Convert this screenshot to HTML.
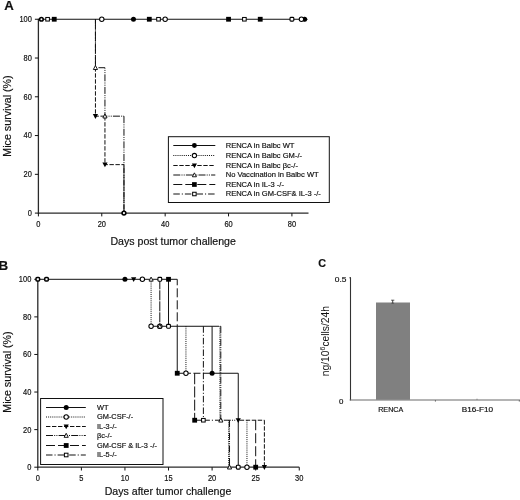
<!DOCTYPE html>
<html><head><meta charset="utf-8"><style>
html,body{margin:0;padding:0;background:#fff;}
svg{display:block;filter:grayscale(1);font-family:"Liberation Sans",sans-serif;}
</style></head><body>
<svg width="520" height="500" viewBox="0 0 520 500">
<rect width="520" height="500" fill="#fff"/>
<line x1="38.40" y1="18.75" x2="38.40" y2="213.70" stroke="#2a2a2a" stroke-width="1.3"/>
<line x1="38.40" y1="213.10" x2="308.50" y2="213.10" stroke="#2a2a2a" stroke-width="1.3"/>
<line x1="34.90" y1="213.10" x2="38.40" y2="213.10" stroke="#111" stroke-width="1"/>
<text x="27.75" y="216.00" font-size="8.3" text-anchor="start" font-weight="normal" fill="#111" textLength="4.15" lengthAdjust="spacingAndGlyphs" stroke="#111" stroke-width="0.18">0</text>
<line x1="34.90" y1="174.33" x2="38.40" y2="174.33" stroke="#111" stroke-width="1"/>
<text x="23.60" y="177.23" font-size="8.3" text-anchor="start" font-weight="normal" fill="#111" textLength="8.30" lengthAdjust="spacingAndGlyphs" stroke="#111" stroke-width="0.18">20</text>
<line x1="34.90" y1="135.56" x2="38.40" y2="135.56" stroke="#111" stroke-width="1"/>
<text x="23.60" y="138.46" font-size="8.3" text-anchor="start" font-weight="normal" fill="#111" textLength="8.30" lengthAdjust="spacingAndGlyphs" stroke="#111" stroke-width="0.18">40</text>
<line x1="34.90" y1="96.79" x2="38.40" y2="96.79" stroke="#111" stroke-width="1"/>
<text x="23.60" y="99.69" font-size="8.3" text-anchor="start" font-weight="normal" fill="#111" textLength="8.30" lengthAdjust="spacingAndGlyphs" stroke="#111" stroke-width="0.18">60</text>
<line x1="34.90" y1="58.02" x2="38.40" y2="58.02" stroke="#111" stroke-width="1"/>
<text x="23.60" y="60.92" font-size="8.3" text-anchor="start" font-weight="normal" fill="#111" textLength="8.30" lengthAdjust="spacingAndGlyphs" stroke="#111" stroke-width="0.18">80</text>
<line x1="34.90" y1="19.25" x2="38.40" y2="19.25" stroke="#111" stroke-width="1"/>
<text x="19.45" y="22.15" font-size="8.3" text-anchor="start" font-weight="normal" fill="#111" textLength="12.45" lengthAdjust="spacingAndGlyphs" stroke="#111" stroke-width="0.18">100</text>
<line x1="38.40" y1="213.10" x2="38.40" y2="216.40" stroke="#111" stroke-width="1"/>
<text x="36.32" y="226.70" font-size="8.3" text-anchor="start" font-weight="normal" fill="#111" textLength="4.15" lengthAdjust="spacingAndGlyphs" stroke="#111" stroke-width="0.18">0</text>
<line x1="101.78" y1="213.10" x2="101.78" y2="216.40" stroke="#111" stroke-width="1"/>
<text x="97.63" y="226.70" font-size="8.3" text-anchor="start" font-weight="normal" fill="#111" textLength="8.30" lengthAdjust="spacingAndGlyphs" stroke="#111" stroke-width="0.18">20</text>
<line x1="165.16" y1="213.10" x2="165.16" y2="216.40" stroke="#111" stroke-width="1"/>
<text x="161.01" y="226.70" font-size="8.3" text-anchor="start" font-weight="normal" fill="#111" textLength="8.30" lengthAdjust="spacingAndGlyphs" stroke="#111" stroke-width="0.18">40</text>
<line x1="228.54" y1="213.10" x2="228.54" y2="216.40" stroke="#111" stroke-width="1"/>
<text x="224.39" y="226.70" font-size="8.3" text-anchor="start" font-weight="normal" fill="#111" textLength="8.30" lengthAdjust="spacingAndGlyphs" stroke="#111" stroke-width="0.18">60</text>
<line x1="291.92" y1="213.10" x2="291.92" y2="216.40" stroke="#111" stroke-width="1"/>
<text x="287.77" y="226.70" font-size="8.3" text-anchor="start" font-weight="normal" fill="#111" textLength="8.30" lengthAdjust="spacingAndGlyphs" stroke="#111" stroke-width="0.18">80</text>
<text x="11.00" y="116.00" font-size="10.7" text-anchor="middle" font-weight="normal" fill="#111" transform="rotate(-90 11.00 116.00)"  stroke="#111" stroke-width="0.18">Mice survival (%)</text>
<text x="173.20" y="244.60" font-size="10.6" text-anchor="middle" font-weight="normal" fill="#111"  stroke="#111" stroke-width="0.18">Days post tumor challenge</text>
<text x="4.20" y="9.60" font-size="13.2" text-anchor="start" font-weight="bold" fill="#111"  stroke="#111" stroke-width="0.18">A</text>
<line x1="38.40" y1="19.25" x2="306.50" y2="19.25" stroke="#111" stroke-width="1"/>
<line x1="95.44" y1="19.25" x2="95.44" y2="116.17" stroke="#111" stroke-width="1" stroke-dasharray="4.4 1.6"/>
<line x1="95.44" y1="116.17" x2="104.95" y2="116.17" stroke="#111" stroke-width="1" stroke-dasharray="4.4 1.6" stroke-dashoffset="1"/>
<line x1="104.95" y1="116.17" x2="104.95" y2="164.64" stroke="#111" stroke-width="1" stroke-dasharray="4.4 1.6"/>
<line x1="104.95" y1="164.64" x2="123.96" y2="164.64" stroke="#111" stroke-width="1" stroke-dasharray="4.4 1.6" stroke-dashoffset="1.5"/>
<line x1="123.96" y1="164.64" x2="123.96" y2="213.10" stroke="#111" stroke-width="1" stroke-dasharray="5.2 0.8" stroke-dashoffset="2.5"/>
<line x1="95.44" y1="19.25" x2="95.44" y2="67.71" stroke="#111" stroke-width="1" stroke-dasharray="7 1.2 1 1.2 1 1.2"/>
<line x1="98.44" y1="67.71" x2="104.95" y2="67.71" stroke="#111" stroke-width="1"/>
<line x1="104.95" y1="67.71" x2="104.95" y2="116.17" stroke="#111" stroke-width="1" stroke-dasharray="7 1.2 1 1.2 1 1.2" stroke-dashoffset="6"/>
<line x1="104.95" y1="116.17" x2="123.96" y2="116.17" stroke="#111" stroke-width="1" stroke-dasharray="7 1.2 1 1.2 1 1.2" stroke-dashoffset="4.6"/>
<line x1="123.96" y1="116.17" x2="123.96" y2="213.10" stroke="#111" stroke-width="1" stroke-dasharray="7 1.2 1 1.2 1 1.2"/>
<circle cx="133.47" cy="19.25" r="2.50" fill="#000"/>
<circle cx="304.60" cy="19.25" r="2.50" fill="#000"/>
<circle cx="41.41" cy="19.25" r="1.80" fill="#fff" stroke="#000" stroke-width="1.6"/>
<circle cx="101.78" cy="19.25" r="2.20" fill="#fff" stroke="#000" stroke-width="1.05"/>
<circle cx="165.16" cy="19.25" r="2.20" fill="#fff" stroke="#000" stroke-width="1.05"/>
<circle cx="301.43" cy="19.25" r="2.20" fill="#fff" stroke="#000" stroke-width="1.05"/>
<path d="M92.84,114.09 L98.04,114.09 L95.44,118.91 Z" fill="#000"/>
<path d="M102.35,162.56 L107.55,162.56 L104.95,167.37 Z" fill="#000"/>
<path d="M93.34,69.53 L97.54,69.53 L95.44,65.50 Z" fill="#fff" stroke="#000" stroke-width="0.9"/>
<path d="M102.85,117.99 L107.05,117.99 L104.95,113.97 Z" fill="#fff" stroke="#000" stroke-width="0.9"/>
<rect x="51.84" y="16.85" width="4.80" height="4.80" fill="#000"/>
<rect x="146.91" y="16.85" width="4.80" height="4.80" fill="#000"/>
<rect x="226.14" y="16.85" width="4.80" height="4.80" fill="#000"/>
<rect x="257.83" y="16.85" width="4.80" height="4.80" fill="#000"/>
<rect x="45.79" y="17.45" width="3.60" height="3.60" fill="#fff" stroke="#000" stroke-width="1"/>
<rect x="156.71" y="17.45" width="3.60" height="3.60" fill="#fff" stroke="#000" stroke-width="1"/>
<rect x="242.59" y="17.45" width="3.60" height="3.60" fill="#fff" stroke="#000" stroke-width="1"/>
<rect x="290.02" y="17.35" width="3.80" height="3.80" rx="0.9" fill="#fff" stroke="#000" stroke-width="1.1"/>
<path d="M304.60,16.85 L307.80,19.25 L304.60,21.65 Z" fill="#000"/>
<circle cx="123.96" cy="213.10" r="1.90" fill="#fff" stroke="#000" stroke-width="1.6"/>
<rect x="168.4" y="136.7" width="160.9" height="65.8" fill="#fff" stroke="#111" stroke-width="1"/>
<line x1="173.30" y1="145.50" x2="215.30" y2="145.50" stroke="#111" stroke-width="1"/>
<circle cx="194.40" cy="145.50" r="2.45" fill="#000"/>
<text x="225.70" y="147.60" font-size="7.55" text-anchor="start" font-weight="normal" fill="#111"  stroke="#111" stroke-width="0.18">RENCA in Balbc WT</text>
<line x1="173.30" y1="155.50" x2="215.30" y2="155.50" stroke="#111" stroke-width="1" stroke-dasharray="1 1.1"/>
<circle cx="194.40" cy="155.50" r="2.15" fill="#fff" stroke="#000" stroke-width="1.05"/>
<text x="225.70" y="157.60" font-size="7.55" text-anchor="start" font-weight="normal" fill="#111"  stroke="#111" stroke-width="0.18">RENCA in Balbc GM-/-</text>
<line x1="173.30" y1="165.50" x2="215.30" y2="165.50" stroke="#111" stroke-width="1" stroke-dasharray="4.4 1.6"/>
<path d="M191.85,163.46 L196.95,163.46 L194.40,168.18 Z" fill="#000"/>
<text x="225.70" y="167.60" font-size="7.55" text-anchor="start" font-weight="normal" fill="#111"  stroke="#111" stroke-width="0.18">RENCA in Balbc βc-/-</text>
<line x1="173.30" y1="175.00" x2="215.30" y2="175.00" stroke="#111" stroke-width="1" stroke-dasharray="7 1.2 1 1.2 1 1.2"/>
<path d="M192.35,176.78 L196.45,176.78 L194.40,172.83 Z" fill="#fff" stroke="#000" stroke-width="0.9"/>
<text x="225.70" y="177.10" font-size="7.55" text-anchor="start" font-weight="normal" fill="#111"  stroke="#111" stroke-width="0.18">No Vaccination in Balbc WT</text>
<line x1="173.30" y1="184.50" x2="215.30" y2="184.50" stroke="#111" stroke-width="1" stroke-dasharray="9 3"/>
<rect x="192.05" y="182.15" width="4.70" height="4.70" fill="#000"/>
<text x="225.70" y="186.60" font-size="7.55" text-anchor="start" font-weight="normal" fill="#111"  stroke="#111" stroke-width="0.18">RENCA in IL-3 -/-</text>
<line x1="173.30" y1="194.00" x2="215.30" y2="194.00" stroke="#111" stroke-width="1" stroke-dasharray="6.5 2 1.1 2"/>
<rect x="192.65" y="192.25" width="3.50" height="3.50" fill="#fff" stroke="#000" stroke-width="1"/>
<text x="225.70" y="196.10" font-size="7.55" text-anchor="start" font-weight="normal" fill="#111"  stroke="#111" stroke-width="0.18">RENCA in GM-CSF&amp; IL-3 -/-</text>
<line x1="37.80" y1="278.80" x2="37.80" y2="467.80" stroke="#2a2a2a" stroke-width="1.3"/>
<line x1="37.80" y1="467.20" x2="299.25" y2="467.20" stroke="#2a2a2a" stroke-width="1.3"/>
<line x1="34.30" y1="467.20" x2="37.80" y2="467.20" stroke="#111" stroke-width="1"/>
<text x="27.15" y="470.10" font-size="8.3" text-anchor="start" font-weight="normal" fill="#111" textLength="4.15" lengthAdjust="spacingAndGlyphs" stroke="#111" stroke-width="0.18">0</text>
<line x1="34.30" y1="429.62" x2="37.80" y2="429.62" stroke="#111" stroke-width="1"/>
<text x="23.00" y="432.52" font-size="8.3" text-anchor="start" font-weight="normal" fill="#111" textLength="8.30" lengthAdjust="spacingAndGlyphs" stroke="#111" stroke-width="0.18">20</text>
<line x1="34.30" y1="392.04" x2="37.80" y2="392.04" stroke="#111" stroke-width="1"/>
<text x="23.00" y="394.94" font-size="8.3" text-anchor="start" font-weight="normal" fill="#111" textLength="8.30" lengthAdjust="spacingAndGlyphs" stroke="#111" stroke-width="0.18">40</text>
<line x1="34.30" y1="354.46" x2="37.80" y2="354.46" stroke="#111" stroke-width="1"/>
<text x="23.00" y="357.36" font-size="8.3" text-anchor="start" font-weight="normal" fill="#111" textLength="8.30" lengthAdjust="spacingAndGlyphs" stroke="#111" stroke-width="0.18">60</text>
<line x1="34.30" y1="316.88" x2="37.80" y2="316.88" stroke="#111" stroke-width="1"/>
<text x="23.00" y="319.78" font-size="8.3" text-anchor="start" font-weight="normal" fill="#111" textLength="8.30" lengthAdjust="spacingAndGlyphs" stroke="#111" stroke-width="0.18">80</text>
<line x1="34.30" y1="279.30" x2="37.80" y2="279.30" stroke="#111" stroke-width="1"/>
<text x="18.85" y="282.20" font-size="8.3" text-anchor="start" font-weight="normal" fill="#111" textLength="12.45" lengthAdjust="spacingAndGlyphs" stroke="#111" stroke-width="0.18">100</text>
<line x1="37.80" y1="467.20" x2="37.80" y2="470.50" stroke="#111" stroke-width="1"/>
<text x="35.72" y="480.80" font-size="8.3" text-anchor="start" font-weight="normal" fill="#111" textLength="4.15" lengthAdjust="spacingAndGlyphs" stroke="#111" stroke-width="0.18">0</text>
<line x1="81.38" y1="467.20" x2="81.38" y2="470.50" stroke="#111" stroke-width="1"/>
<text x="79.30" y="480.80" font-size="8.3" text-anchor="start" font-weight="normal" fill="#111" textLength="4.15" lengthAdjust="spacingAndGlyphs" stroke="#111" stroke-width="0.18">5</text>
<line x1="124.95" y1="467.20" x2="124.95" y2="470.50" stroke="#111" stroke-width="1"/>
<text x="120.80" y="480.80" font-size="8.3" text-anchor="start" font-weight="normal" fill="#111" textLength="8.30" lengthAdjust="spacingAndGlyphs" stroke="#111" stroke-width="0.18">10</text>
<line x1="168.52" y1="467.20" x2="168.52" y2="470.50" stroke="#111" stroke-width="1"/>
<text x="164.37" y="480.80" font-size="8.3" text-anchor="start" font-weight="normal" fill="#111" textLength="8.30" lengthAdjust="spacingAndGlyphs" stroke="#111" stroke-width="0.18">15</text>
<line x1="212.10" y1="467.20" x2="212.10" y2="470.50" stroke="#111" stroke-width="1"/>
<text x="207.95" y="480.80" font-size="8.3" text-anchor="start" font-weight="normal" fill="#111" textLength="8.30" lengthAdjust="spacingAndGlyphs" stroke="#111" stroke-width="0.18">20</text>
<line x1="255.68" y1="467.20" x2="255.68" y2="470.50" stroke="#111" stroke-width="1"/>
<text x="251.53" y="480.80" font-size="8.3" text-anchor="start" font-weight="normal" fill="#111" textLength="8.30" lengthAdjust="spacingAndGlyphs" stroke="#111" stroke-width="0.18">25</text>
<line x1="299.25" y1="467.20" x2="299.25" y2="470.50" stroke="#111" stroke-width="1"/>
<text x="295.10" y="480.80" font-size="8.3" text-anchor="start" font-weight="normal" fill="#111" textLength="8.30" lengthAdjust="spacingAndGlyphs" stroke="#111" stroke-width="0.18">30</text>
<text x="11.00" y="372.00" font-size="10.7" text-anchor="middle" font-weight="normal" fill="#111" transform="rotate(-90 11.00 372.00)"  stroke="#111" stroke-width="0.18">Mice survival (%)</text>
<text x="168.00" y="494.50" font-size="10.6" text-anchor="middle" font-weight="normal" fill="#111"  stroke="#111" stroke-width="0.18">Days after tumor challenge</text>
<text x="-1.60" y="269.50" font-size="13.4" text-anchor="start" font-weight="bold" fill="#111"  stroke="#111" stroke-width="0.18">B</text>
<line x1="37.80" y1="279.30" x2="177.24" y2="279.30" stroke="#111" stroke-width="1"/>
<line x1="151.09" y1="326.27" x2="212.10" y2="326.27" stroke="#111" stroke-width="1"/>
<line x1="212.10" y1="326.27" x2="220.81" y2="326.27" stroke="#111" stroke-width="1" stroke-dasharray="7 1.2 1 1.2 1 1.2"/>
<line x1="177.24" y1="373.25" x2="185.95" y2="373.25" stroke="#111" stroke-width="1"/>
<line x1="185.95" y1="373.25" x2="212.10" y2="373.25" stroke="#111" stroke-width="1" stroke-dasharray="7 2.5" stroke-dashoffset="2"/>
<line x1="212.10" y1="373.25" x2="238.25" y2="373.25" stroke="#111" stroke-width="1"/>
<line x1="194.67" y1="420.23" x2="203.38" y2="420.23" stroke="#111" stroke-width="1" stroke-dasharray="9 3"/>
<line x1="203.38" y1="420.23" x2="220.81" y2="420.23" stroke="#111" stroke-width="1" stroke-dasharray="6.5 2 1.1 2"/>
<line x1="220.81" y1="420.23" x2="235.63" y2="420.23" stroke="#111" stroke-width="1" stroke-dasharray="7 1.2 1 1.2 1 1.2" stroke-dashoffset="-3"/>
<line x1="238.25" y1="420.23" x2="264.39" y2="420.23" stroke="#111" stroke-width="1" stroke-dasharray="4.4 1.6" stroke-dashoffset="-1.5"/>
<line x1="151.09" y1="279.30" x2="151.09" y2="326.27" stroke="#111" stroke-width="1" stroke-dasharray="1 1.1"/>
<line x1="159.81" y1="279.30" x2="159.81" y2="326.27" stroke="#111" stroke-width="1" stroke-dasharray="10 1"/>
<line x1="168.52" y1="279.30" x2="168.52" y2="326.27" stroke="#111" stroke-width="1"/>
<line x1="177.24" y1="279.30" x2="177.24" y2="326.27" stroke="#111" stroke-width="1" stroke-dasharray="9 3" stroke-dashoffset="3"/>
<line x1="177.24" y1="326.27" x2="177.24" y2="373.25" stroke="#111" stroke-width="1"/>
<line x1="185.95" y1="326.27" x2="185.95" y2="373.25" stroke="#111" stroke-width="1" stroke-dasharray="1 1.1"/>
<line x1="203.38" y1="326.27" x2="203.38" y2="420.23" stroke="#111" stroke-width="1" stroke-dasharray="6.5 2 1.1 2"/>
<line x1="212.10" y1="326.27" x2="212.10" y2="373.25" stroke="#111" stroke-width="1"/>
<line x1="220.81" y1="326.27" x2="220.81" y2="420.23" stroke="#111" stroke-width="1" stroke-dasharray="7 1.2 1 1.2 1 1.2"/>
<line x1="219.91" y1="326.27" x2="219.91" y2="420.23" stroke="#111" stroke-width="1" stroke-dasharray="1 1.1"/>
<line x1="194.67" y1="373.25" x2="194.67" y2="420.23" stroke="#111" stroke-width="1" stroke-dasharray="11 2.2"/>
<line x1="238.25" y1="373.25" x2="238.25" y2="467.20" stroke="#111" stroke-width="1"/>
<line x1="229.53" y1="420.23" x2="229.53" y2="467.20" stroke="#111" stroke-width="1" stroke-dasharray="7 1.2 1 1.2 1 1.2"/>
<line x1="228.63" y1="420.23" x2="228.63" y2="467.20" stroke="#111" stroke-width="1" stroke-dasharray="1 1.1"/>
<line x1="246.96" y1="420.23" x2="246.96" y2="467.20" stroke="#111" stroke-width="1" stroke-dasharray="1 1.1"/>
<line x1="255.68" y1="420.23" x2="255.68" y2="467.20" stroke="#111" stroke-width="1" stroke-dasharray="10 3"/>
<line x1="264.39" y1="420.23" x2="264.39" y2="467.20" stroke="#111" stroke-width="1" stroke-dasharray="4.4 1.6"/>
<rect x="36.00" y="277.50" width="3.60" height="3.60" rx="1" fill="#fff" stroke="#000" stroke-width="1.5"/>
<rect x="44.72" y="277.50" width="3.60" height="3.60" rx="1" fill="#fff" stroke="#000" stroke-width="1.5"/>
<circle cx="124.95" cy="279.30" r="2.50" fill="#000"/>
<path d="M131.06,277.22 L136.26,277.22 L133.66,282.03 Z" fill="#000"/>
<circle cx="142.38" cy="279.30" r="2.20" fill="#fff" stroke="#000" stroke-width="1.05"/>
<path d="M149.00,281.12 L153.19,281.12 L151.09,277.09 Z" fill="#fff" stroke="#000" stroke-width="0.9"/>
<rect x="157.91" y="277.40" width="3.80" height="3.80" rx="0.9" fill="#fff" stroke="#000" stroke-width="1.1"/>
<rect x="166.12" y="276.90" width="4.80" height="4.80" fill="#000"/>
<circle cx="151.09" cy="326.27" r="2.20" fill="#fff" stroke="#000" stroke-width="1.05"/>
<circle cx="159.81" cy="326.27" r="2.20" fill="#fff" stroke="#000" stroke-width="1.05"/>
<path d="M157.71,328.09 L161.91,328.09 L159.81,324.06 Z" fill="#fff" stroke="#000" stroke-width="0.9"/>
<rect x="166.62" y="324.38" width="3.80" height="3.80" rx="0.9" fill="#fff" stroke="#000" stroke-width="1.1"/>
<rect x="174.84" y="370.85" width="4.80" height="4.80" fill="#000"/>
<circle cx="185.95" cy="373.25" r="2.20" fill="#fff" stroke="#000" stroke-width="1.05"/>
<circle cx="212.10" cy="373.25" r="2.50" fill="#000"/>
<rect x="192.27" y="417.83" width="4.80" height="4.80" fill="#000"/>
<rect x="201.58" y="418.43" width="3.60" height="3.60" fill="#fff" stroke="#000" stroke-width="1"/>
<path d="M218.72,422.05 L222.91,422.05 L220.81,418.02 Z" fill="#fff" stroke="#000" stroke-width="0.9"/>
<path d="M235.65,418.15 L240.84,418.15 L238.25,422.96 Z" fill="#000"/>
<path d="M227.43,469.02 L231.63,469.02 L229.53,464.99 Z" fill="#fff" stroke="#000" stroke-width="0.9"/>
<rect x="236.34" y="465.30" width="3.80" height="3.80" rx="0.9" fill="#fff" stroke="#000" stroke-width="1.1"/>
<circle cx="246.96" cy="467.20" r="2.20" fill="#fff" stroke="#000" stroke-width="1.05"/>
<rect x="253.28" y="464.80" width="4.80" height="4.80" fill="#000"/>
<path d="M261.79,465.12 L266.99,465.12 L264.39,469.93 Z" fill="#000"/>
<rect x="40.6" y="398.5" width="122.4" height="66" fill="#fff" stroke="#111" stroke-width="1"/>
<line x1="46.00" y1="407.50" x2="85.80" y2="407.50" stroke="#111" stroke-width="1"/>
<circle cx="66.20" cy="407.50" r="2.50" fill="#000"/>
<text x="97.00" y="409.60" font-size="7.4" text-anchor="start" font-weight="normal" fill="#111"  stroke="#111" stroke-width="0.18">WT</text>
<line x1="46.00" y1="417.00" x2="85.80" y2="417.00" stroke="#111" stroke-width="1" stroke-dasharray="1 1.1"/>
<circle cx="66.20" cy="417.00" r="2.20" fill="#fff" stroke="#000" stroke-width="1.05"/>
<text x="97.00" y="419.10" font-size="7.4" text-anchor="start" font-weight="normal" fill="#111"  stroke="#111" stroke-width="0.18">GM-CSF-/-</text>
<line x1="46.00" y1="426.50" x2="85.80" y2="426.50" stroke="#111" stroke-width="1" stroke-dasharray="4.4 1.6"/>
<path d="M63.60,424.42 L68.80,424.42 L66.20,429.23 Z" fill="#000"/>
<text x="97.00" y="428.60" font-size="7.4" text-anchor="start" font-weight="normal" fill="#111"  stroke="#111" stroke-width="0.18">IL-3-/-</text>
<line x1="46.00" y1="435.50" x2="85.80" y2="435.50" stroke="#111" stroke-width="1" stroke-dasharray="7 1.2 1 1.2 1 1.2"/>
<path d="M64.10,437.32 L68.30,437.32 L66.20,433.29 Z" fill="#fff" stroke="#000" stroke-width="0.9"/>
<text x="97.00" y="437.60" font-size="7.4" text-anchor="start" font-weight="normal" fill="#111"  stroke="#111" stroke-width="0.18">βc-/-</text>
<line x1="46.00" y1="445.50" x2="85.80" y2="445.50" stroke="#111" stroke-width="1" stroke-dasharray="9 3"/>
<rect x="63.80" y="443.10" width="4.80" height="4.80" fill="#000"/>
<text x="97.00" y="447.60" font-size="7.4" text-anchor="start" font-weight="normal" fill="#111"  stroke="#111" stroke-width="0.18">GM-CSF &amp; IL-3 -/-</text>
<line x1="46.00" y1="455.00" x2="85.80" y2="455.00" stroke="#111" stroke-width="1" stroke-dasharray="6.5 2 1.1 2"/>
<rect x="64.40" y="453.20" width="3.60" height="3.60" fill="#fff" stroke="#000" stroke-width="1"/>
<text x="97.00" y="457.10" font-size="7.4" text-anchor="start" font-weight="normal" fill="#111"  stroke="#111" stroke-width="0.18">IL-5-/-</text>
<text x="318.20" y="267.40" font-size="10.8" text-anchor="start" font-weight="bold" fill="#111"  stroke="#111" stroke-width="0.18">C</text>
<line x1="350.50" y1="277.40" x2="350.50" y2="400.40" stroke="#333" stroke-width="1.1"/>
<line x1="349.60" y1="400.00" x2="520.00" y2="400.00" stroke="#6a6a6a" stroke-width="1.2"/>
<line x1="349.40" y1="277.80" x2="351.00" y2="277.80" stroke="#333" stroke-width="1"/>
<rect x="376" y="302.5" width="34" height="97.3" fill="#808080"/>
<line x1="392.70" y1="300.10" x2="392.70" y2="303.30" stroke="#333" stroke-width="0.9"/>
<line x1="391.10" y1="300.20" x2="394.30" y2="300.20" stroke="#333" stroke-width="0.8"/>
<line x1="391.30" y1="303.20" x2="394.10" y2="303.20" stroke="#444" stroke-width="0.7"/>
<line x1="435.40" y1="400.00" x2="435.40" y2="401.60" stroke="#6a6a6a" stroke-width="1"/>
<line x1="519.30" y1="400.00" x2="519.30" y2="401.60" stroke="#6a6a6a" stroke-width="1"/>
<line x1="476.00" y1="399.30" x2="478.00" y2="399.30" stroke="#888" stroke-width="0.7"/>
<text x="334.80" y="282.20" font-size="7.4" text-anchor="start" font-weight="normal" fill="#111" textLength="11.7" lengthAdjust="spacingAndGlyphs" stroke="#111" stroke-width="0.18">0.5</text>
<text x="339.00" y="403.80" font-size="7.4" text-anchor="start" font-weight="normal" fill="#111" textLength="4.4" lengthAdjust="spacingAndGlyphs" stroke="#111" stroke-width="0.18">0</text>
<text x="378.20" y="412.20" font-size="7" text-anchor="start" font-weight="normal" fill="#111" textLength="25.1" lengthAdjust="spacingAndGlyphs" stroke="#111" stroke-width="0.18">RENCA</text>
<text x="461.70" y="412.20" font-size="7" text-anchor="start" font-weight="normal" fill="#111" textLength="31.4" lengthAdjust="spacingAndGlyphs" stroke="#111" stroke-width="0.18">B16-F10</text>
<text transform="rotate(-90 328.6 341.1)" x="328.6" y="341.1" font-size="10.3" text-anchor="middle" fill="#111">ng/10<tspan font-size="7" dy="-3.6">6</tspan><tspan dy="3.6">cells/24h</tspan></text>
</svg>
</body></html>
